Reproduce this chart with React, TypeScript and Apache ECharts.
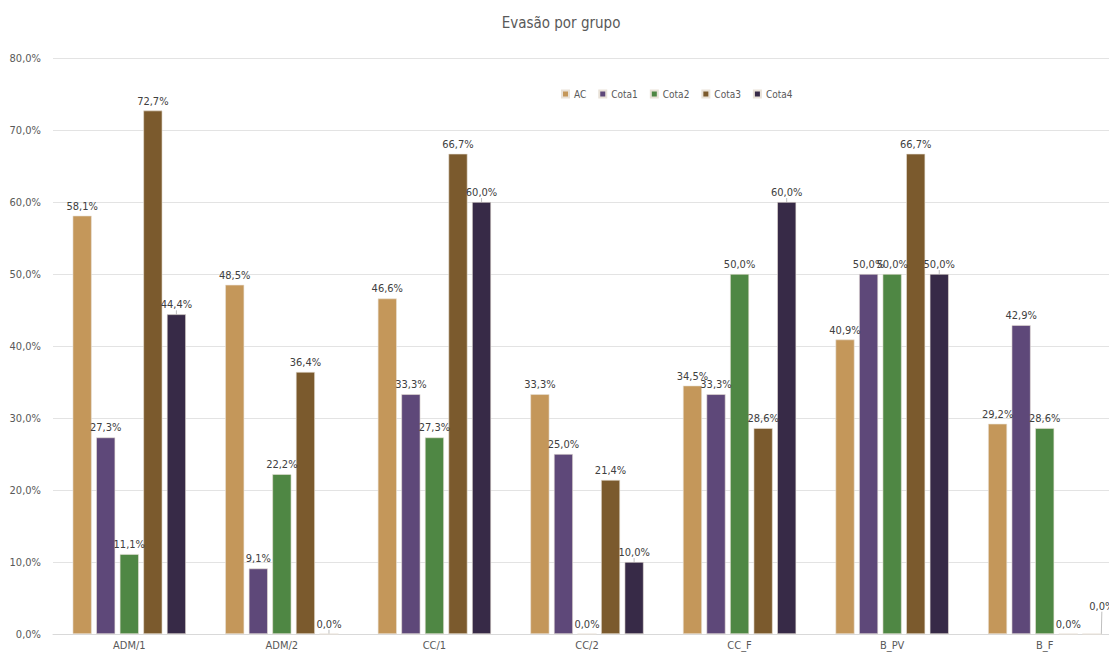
import React, { useEffect, useRef } from "react";
import * as echarts from "echarts";

const categories = ["ADM/1", "ADM/2", "CC/1", "CC/2", "CC_F", "B_PV", "B_F"];
const seriesNames = ["AC", "Cota1", "Cota2", "Cota3", "Cota4"];
const acValues = [58.1, 48.5, 46.6, 33.3, 34.5, 40.9, 29.2];
const cota1Values = [27.3, 9.1, 33.3, 25.0, 33.3, 50.0, 42.9];
const cota2Values = [11.1, 22.2, 27.3, 0.0, 50.0, 50.0, 28.6];
const cota3Values = [72.7, 36.4, 66.7, 21.4, 28.6, 66.7, 0.0];
const cota4Values = [44.4, 0.0, 60.0, 10.0, 60.0, 50.0, 0.0];
const yTicks = [0, 10, 20, 30, 40, 50, 60, 70, 80];

const colors = ["#C4975A", "#5E4879", "#4F8744", "#7B5A2D", "#372A47"];
const allValues = [acValues, cota1Values, cota2Values, cota3Values, cota4Values];

const fmt = (v: number) => v.toFixed(1).replace(".", ",") + "%";
const FONT = "'Liberation Sans Narrow', 'DejaVu Sans Condensed', sans-serif";

export default function App() {
  const ref = useRef<HTMLDivElement>(null);
  useEffect(() => {
    document.body.style.margin = "0";
    const chart = echarts.init(ref.current!, undefined, { renderer: "svg" });
    chart.setOption({
      animation: false,
      backgroundColor: "#ffffff",
      textStyle: { fontFamily: FONT },
      title: {
        text: "Evasão por grupo",
        left: 556,
        top: 10,
        textAlign: "center",
        textStyle: { fontSize: 15, fontWeight: "normal", color: "#595959", fontFamily: FONT },
      },
      legend: {
        data: seriesNames,
        left: 556,
        top: 84,
        itemWidth: 7,
        itemHeight: 7,
        itemGap: 12,
        icon: "rect",
        textStyle: { fontSize: 10, color: "#595959", fontFamily: FONT },
      },
      grid: { left: 53, right: 0, top: 58, bottom: 19, containLabel: false },
      xAxis: {
        type: "category",
        data: categories,
        axisLine: { lineStyle: { color: "#d9d9d9" } },
        axisTick: { show: false },
        axisLabel: { color: "#595959", fontSize: 11, margin: 6, fontFamily: FONT },
      },
      yAxis: {
        type: "value",
        min: 0,
        max: 80,
        interval: 10,
        axisLine: { show: false },
        axisTick: { show: false },
        splitLine: { lineStyle: { color: "#e3e3e3" } },
        axisLabel: {
          color: "#595959",
          fontSize: 11,
          margin: 12,
          fontFamily: FONT,
          formatter: (v: number) => (yTicks.includes(v) ? fmt(v) : ""),
        },
      },
      series: seriesNames.map((name, i) => ({
        name,
        type: "bar",
        data: allValues[i],
        barWidth: 19,
        barGap: "24%",
        itemStyle: { color: colors[i], borderColor: "#e9e2d8", borderWidth: 0.6 },
        label: {
          show: true,
          position: "top",
          distance: 4,
          color: "#404040",
          fontSize: 11,
          fontFamily: FONT,
          formatter: (p: any) => fmt(p.value),
        },
        labelLayout: (p: any) =>
          i === 4 && p.dataIndex === 6 ? { dx: 10, dy: -18 } : {},
        labelLine: i === 4 ? { show: true, lineStyle: { color: "#bfbfbf", width: 1 } } : { show: false },
      })),
    });
    return () => chart.dispose();
  }, []);
  return (
    <div style={{ position: "absolute", left: 0, top: 0, width: 1109, height: 653, overflow: "hidden" }}>
      <div ref={ref} style={{ position: "absolute", left: 0, top: 0, width: 1121, height: 653 }} />
    </div>
  );
}
